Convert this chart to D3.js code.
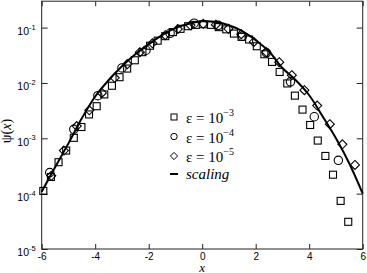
<!DOCTYPE html>
<html>
<head>
<meta charset="utf-8">
<script src="https://cdn.jsdelivr.net/npm/d3@7"></script>
<style>
  body { margin: 0; background: #fff; }
  svg { display: block; }
</style>
</head>
<body>
<svg id="chart" width="367" height="273"></svg>
<script>
// eps = 1e-3 (squares)
const sqX = [-5.94, -5.655, -5.37, -5.085, -4.80, -4.515, -4.23, -3.945, -3.66, -3.375, -3.09,
  -2.805, -2.52, -2.235, -1.95, -1.665, -1.38, -1.095, -0.81, -0.525, -0.24, 0.045, 0.33,
  0.615, 0.90, 1.185, 1.47, 1.755, 2.04, 2.325, 2.61, 2.895, 3.18, 3.465, 3.75, 4.035,
  4.32, 4.605, 4.89, 5.175, 5.46];
const sqY = [1.12e-4, 2.0e-4, 3.7e-4, 6.0e-4, 1.02e-3, 1.6e-3, 2.7e-3, 3.8e-3, 6.2e-3, 8.9e-3,
  0.0127, 0.0182, 0.0257, 0.036, 0.047, 0.058, 0.070, 0.083, 0.095, 0.106, 0.112, 0.115,
  0.112, 0.102, 0.093, 0.078, 0.068, 0.061, 0.046, 0.033, 0.024, 0.0158, 0.0098, 0.0059,
  0.0033, 0.00174, 9.1e-4, 4.8e-4, 2.2e-4, 7.4e-5, 3.1e-5];

// eps = 1e-4 (circles)
const ciX = [-5.70, -4.80, -3.90, -3.00, -2.10, -1.20, -0.30, 0.60, 1.50, 2.40, 3.30, 4.19, 5.09];
const ciY = [2.4e-4, 1.45e-3, 5.9e-3, 0.0187, 0.039, 0.079, 0.12, 0.11, 0.070, 0.035, 0.0105,
  0.00245, 4.0e-4];

// eps = 1e-5 (diamonds)
const diX = [-5.64, -5.17, -4.69, -4.22, -3.75, -3.27, -2.80, -2.33, -1.86, -1.38, -0.91, -0.44,
  0.04, 0.51, 0.98, 1.46, 1.93, 2.40, 2.88, 3.35, 3.82, 4.30, 4.77, 5.24, 5.71];
const diY = [2.1e-4, 6.0e-4, 1.66e-3, 3.2e-3, 6.6e-3, 0.0124, 0.0219, 0.036, 0.052, 0.073, 0.094,
  0.110, 0.117, 0.113, 0.095, 0.076, 0.055, 0.036, 0.0237, 0.0138, 0.0074, 0.0039, 0.0018,
  7.8e-4, 3.3e-4];

// scaling curve
const scX = [-6, -5.5, -5, -4.5, -4, -3.5, -3, -2.5, -2, -1.5, -1, -0.5, 0, 0.5, 1, 1.5, 2, 2.5,
  3, 3.5, 4, 4.5, 5, 5.5, 6];
const scY = [1.08e-4, 3.0e-4, 8.1e-4, 2.3e-3, 5.7e-3, 0.0112, 0.020, 0.033, 0.050, 0.073, 0.098,
  0.117, 0.130, 0.126, 0.110, 0.086, 0.059, 0.037, 0.0186, 0.0112, 0.0060, 0.0025, 1.0e-3,
  3.5e-4, 1.0e-4];

const xTicks = [-6, -4, -2, 0, 2, 4, 6];
const yTicks = [1e-5, 1e-4, 1e-3, 1e-2, 1e-1];
const legendLabels = ["-3", "-4", "-5", "scaling"];

const svg = d3.select("#chart");
const L = 41.7, R = 362.7, T = 1.2, B = 249;

const x = d3.scaleLinear().domain([-6, 6]).range([L, R]);
const y = d3.scaleLog().domain([1e-5, 0.3]).range([B, T]);

const sans = "'Liberation Sans', Arial, sans-serif";
const serif = "'Liberation Serif', 'Times New Roman', serif";

// axes, ticks pointing inward
const gx = svg.append("g").attr("transform", `translate(0,${B})`)
  .call(d3.axisBottom(x).tickValues(xTicks).tickSizeInner(-5).tickSizeOuter(0).tickPadding(4)
    .tickFormat(d => d));
gx.selectAll("text").attr("font-family", sans).attr("font-size", 10).attr("fill", "#000");

svg.append("g").attr("transform", `translate(0,${T})`)
  .call(d3.axisTop(x).tickValues(xTicks).tickSizeInner(-5).tickSizeOuter(0).tickFormat(""));

const gy = svg.append("g").attr("transform", `translate(${L},0)`)
  .call(d3.axisLeft(y).tickValues(yTicks).tickSizeInner(-6).tickSizeOuter(0).tickPadding(6)
    .tickFormat(() => "10"));
gy.selectAll(".tick text")
  .attr("font-family", sans).attr("font-size", 10.5).attr("fill", "#000").attr("dy", "0.65em")
  .each(function(d) {
    d3.select(this).append("tspan")
      .attr("dy", "-0.7em").attr("font-size", 7.5)
      .text(Math.round(Math.log10(d)));
  });

svg.append("g").attr("transform", `translate(${R},0)`)
  .call(d3.axisRight(y).tickValues(yTicks).tickSizeInner(-6).tickSizeOuter(0).tickFormat(""));

svg.selectAll(".domain").remove();
svg.selectAll(".tick line").attr("stroke", "#222");

// frame
svg.append("rect")
  .attr("x", L).attr("y", T).attr("width", R - L).attr("height", B - T)
  .attr("fill", "none").attr("stroke", "#222").attr("stroke-width", 1);

// axis titles
svg.append("text").attr("x", x(0)).attr("y", 271.5)
  .attr("text-anchor", "middle").attr("font-family", serif).attr("font-style", "italic")
  .attr("font-size", 13).text("x");

svg.append("text").attr("transform", "translate(11,131) rotate(-90)")
  .attr("text-anchor", "middle").attr("font-family", serif).attr("font-size", 14)
  .html("ψ(<tspan font-style='italic'>x</tspan>)");

// scaling curve
const line = d3.line().x(d => x(d[0])).y(d => y(d[1])).curve(d3.curveCatmullRom);
svg.append("path").datum(d3.zip(scX, scY))
  .attr("d", line).attr("fill", "none").attr("stroke", "#000").attr("stroke-width", 2);

// markers
const mk = svg.append("g").attr("fill", "none").attr("stroke", "#000").attr("stroke-width", 1.1);

mk.selectAll(".sq").data(d3.zip(sqX, sqY)).join("rect")
  .attr("x", d => x(d[0]) - 3.5).attr("y", d => y(d[1]) - 3.5)
  .attr("width", 7).attr("height", 7);

mk.selectAll(".ci").data(d3.zip(ciX, ciY)).join("circle")
  .attr("cx", d => x(d[0])).attr("cy", d => y(d[1])).attr("r", 4.2);

mk.selectAll(".di").data(d3.zip(diX, diY)).join("path")
  .attr("transform", d => `translate(${x(d[0])},${y(d[1])})`)
  .attr("d", "M0,-4.5L4.5,0L0,4.5L-4.5,0Z");

// legend
const lg = svg.append("g").attr("transform", "translate(174,0)");
const rows = [117, 136.5, 156, 175];
lg.append("rect").attr("x", -3).attr("y", rows[0] - 3).attr("width", 6).attr("height", 6)
  .attr("fill", "none").attr("stroke", "#000");
lg.append("circle").attr("cx", 0).attr("cy", rows[1]).attr("r", 3.2)
  .attr("fill", "none").attr("stroke", "#000");
lg.append("path").attr("transform", `translate(0,${rows[2]})`)
  .attr("d", "M0,-3.6L3.6,0L0,3.6L-3.6,0Z").attr("fill", "none").attr("stroke", "#000");
lg.append("line").attr("x1", -4).attr("x2", 4).attr("y1", rows[3] - 1).attr("y2", rows[3] - 1)
  .attr("stroke", "#000").attr("stroke-width", 2);

legendLabels.forEach((s, i) => {
  const t = lg.append("text").attr("x", 12).attr("y", rows[i] + 6)
    .attr("font-family", serif).attr("font-size", 15);
  if (i < 3) {
    t.append("tspan").text("ε = 10");
    t.append("tspan").attr("dy", -7).attr("font-size", 10).text(s.replace("-", "−"));
  } else {
    t.attr("y", rows[i] + 4).attr("font-style", "italic").text(s);
  }
});
</script>
</body>
</html>
